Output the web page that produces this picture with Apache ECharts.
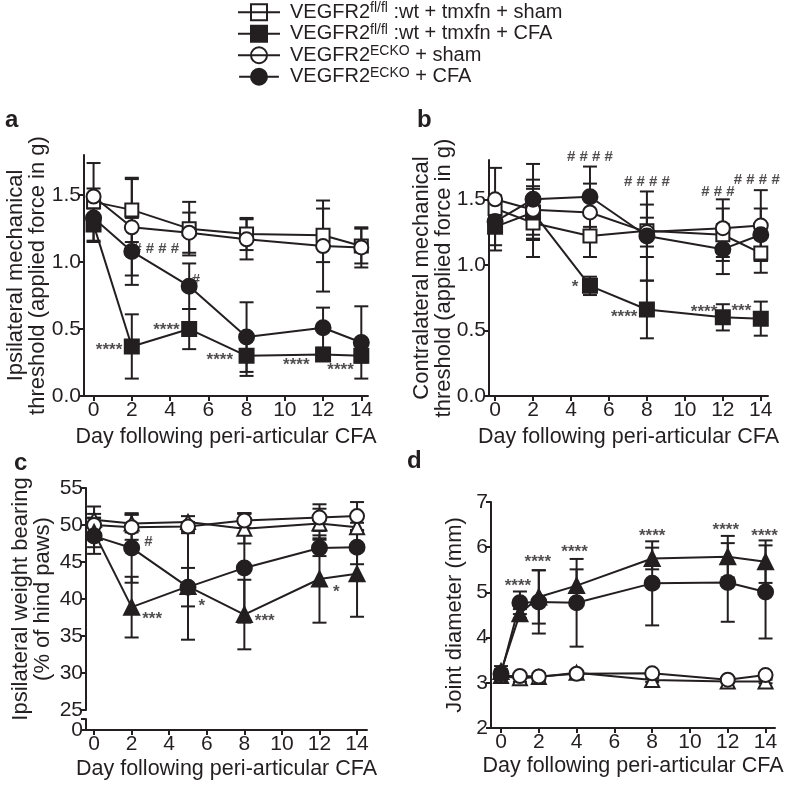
<!DOCTYPE html>
<html><head><meta charset="utf-8">
<script src="https://cdn.jsdelivr.net/npm/echarts@6/dist/echarts.min.js"></script>
<style>html,body{margin:0;padding:0;background:#fff}#c{width:787px;height:785px}</style>
</head><body><div id="c"></div>
<script>
// ---------------- data ----------------
const daysAB = [0, 2, 5, 8, 12, 14];
const daysC = [0, 2, 5, 8, 12, 14];
const daysD = [0, 1, 2, 4, 8, 12, 14];

const xTicks = [0, 2, 4, 6, 8, 10, 12, 14];
const yTicksAB = [0, 0.5, 1.0, 1.5];
const yTicksC = [25, 30, 35, 40, 45, 50, 55];
const yTicksCLow = [0];
const yTicksD = [2, 3, 4, 5, 6, 7];

// panel a: ipsilateral mechanical threshold (g)
const aWtSham = [1.45, 1.39, 1.25, 1.21, 1.20, 1.12];
const aWtShamErr = [0.10, 0.24, 0.20, 0.12, 0.20, 0.13];
const aWtCfa = [1.28, 0.37, 0.50, 0.30, 0.31, 0.30];
const aWtCfaErr = [0.12, 0.24, 0.15, 0.15, 0.04, 0.05];
const aKoSham = [1.49, 1.26, 1.22, 1.17, 1.12, 1.11];
const aKoShamErr = [0.25, 0.36, 0.15, 0.15, 0.34, 0.15];
const aKoCfa = [1.33, 1.08, 0.82, 0.44, 0.51, 0.40];
const aKoCfaErr = [0.18, 0.25, 0.17, 0.26, 0.15, 0.27];

// panel b: contralateral mechanical threshold (g)
const bWtSham = [1.43, 1.32, 1.22, 1.26, 1.23, 1.09];
const bWtShamErr = [0.10, 0.26, 0.16, 0.20, 0.20, 0.15];
const bWtCfa = [1.29, 1.40, 0.84, 0.66, 0.60, 0.59];
const bWtCfaErr = [0.18, 0.20, 0.07, 0.22, 0.10, 0.13];
const bKoSham = [1.50, 1.42, 1.40, 1.25, 1.28, 1.30];
const bKoShamErr = [0.24, 0.23, 0.22, 0.11, 0.22, 0.27];
const bKoCfa = [1.33, 1.50, 1.52, 1.22, 1.12, 1.23];
const bKoCfaErr = [0.18, 0.27, 0.23, 0.34, 0.19, 0.20];

// panel c: ipsilateral weight bearing (% of hind paws)
const cWtSham = [50.7, 50.2, 50.4, 49.5, 50.2, 49.7];
const cWtShamErr = [1.8, 1.2, 0.8, 2.0, 2.0, 0.6];
const cWtCfa = [49.0, 38.9, 41.7, 37.9, 42.7, 43.4];
const cWtCfaErr = [2.0, 4.1, 7.2, 4.7, 5.9, 5.8];
const cKoSham = [50.0, 49.7, 49.8, 50.6, 51.0, 51.2];
const cKoShamErr = [1.5, 1.7, 0.6, 1.0, 1.8, 1.9];
const cKoCfa = [48.5, 46.9, 41.6, 44.2, 46.9, 47.0];
const cKoCfaErr = [2.4, 4.7, 2.6, 7.4, 1.1, 2.3];

// panel d: joint diameter (mm)
const dWtSham = [3.15, 3.10, 3.13, 3.22, 3.06, 3.03, 3.03];
const dWtShamErr = [0.06, 0.08, 0.08, 0.05, 0.04, 0.04, 0.04];
const dWtCfa = [3.25, 4.53, 4.90, 5.15, 5.75, 5.79, 5.68];
const dWtCfaErr = [0.12, 0.10, 0.59, 0.36, 0.24, 0.46, 0.47];
const dKoSham = [3.15, 3.15, 3.14, 3.20, 3.21, 3.07, 3.17];
const dKoShamErr = [0.05, 0.05, 0.05, 0.05, 0.04, 0.04, 0.05];
const dKoCfa = [3.20, 4.77, 4.79, 4.77, 5.20, 5.22, 5.01];
const dKoCfaErr = [0.10, 0.25, 0.70, 0.97, 0.93, 0.87, 1.03];

// significance marks: [day, level, text]
const sigA = [[2, 0.37, '****'], [2, 1.10, '####'], [5, 0.52, '****'], [5, 0.865, '#'], [8, 0.295, '****'], [12, 0.256, '****'], [14, 0.219, '****']];
const sigB = [[5, 1.827, '####'], [8, 1.636, '####'], [12, 1.56, '###'], [14, 1.649, '####'], [5, 0.86, '*'], [8, 0.631, '****'], [12, 0.669, '****'], [14, 0.677, '***']];
const sigC = [[2, 47.7, '#'], [2, 37.8, '***'], [5, 39.6, '*'], [8, 37.5, '***'], [12, 41.4, '*']];
const sigD = [[1, 5.22, '****'], [2, 5.75, '****'], [4, 5.97, '****'], [8, 6.32, '****'], [12, 6.47, '****'], [14, 6.32, '****']];

// legend text parts
const legendBase = ['VEGFR2', 'VEGFR2', 'VEGFR2', 'VEGFR2'];
const legendSup = ['fl/fl', 'fl/fl', 'ECKO', 'ECKO'];
const legendTail = [' :wt + tmxfn + sham', ' :wt + tmxfn + CFA', ' + sham', ' + CFA'];

const panelLetters = ['a', 'b', 'c', 'd'];
const xName = 'Day following peri-articular CFA';
const yNames = ['Ipsilateral mechanical\nthreshold (applied force in g)', 'Contralateral mechanical\nthreshold (applied force in g)', 'Ipsilateral weight bearing\n(% of hind paws)', 'Joint diameter (mm)'];

// ---------------- layout / style ----------------
const INK = '#231f20';
const FONT = '"Liberation Sans", Arial, Helvetica, sans-serif';
const seriesNames = legendBase.map((b, i) => b + legendSup[i] + legendTail[i]);

// legend icons: line through symbol (42 x 18 box)
const BAR = 'M0,8 L42,8 L42,10 L0,10 Z ';
const legendIcons = [
  'path://' + BAR + 'M12,0 L30,0 L30,18 L12,18 Z M14,2 L14,16 L28,16 L28,2 Z',
  'path://' + BAR + 'M12,0 L30,0 L30,18 L12,18 Z',
  'path://' + BAR + 'M30,9 A9,9 0 1,1 12,9 A9,9 0 1,1 30,9 Z M28,9 A7,7 0 1,0 14,9 A7,7 0 1,0 28,9 Z',
  'path://' + BAR + 'M30.5,9 A9.5,9.5 0 1,1 11.5,9 A9.5,9.5 0 1,1 30.5,9 Z'
];

const placeA = [['left', 9], ['right', 1], ['left', 9], ['right', 2], ['left', 13], ['left', 13], ['left', 7]];
const placeB = [['center', 0], ['center', 0], ['center', -5], ['center', -4], ['left', 11], ['left', 9], ['left', 5], ['left', 9]];
const placeC = [['right', 12], ['right', 10], ['right', 10], ['right', 10], ['right', 13]];
const placeD = [['center', -2], ['center', -1], ['center', -2], ['center', 0], ['center', -2], ['center', -1]];

const grids = [
  { left: 84, top: 155, width: 284, height: 241 },
  { left: 489, top: 160, width: 279, height: 236 },
  { left: 86, top: 488, width: 281, height: 222 },
  { left: 86, top: 719, width: 281, height: 11 },
  { left: 491, top: 502, width: 284, height: 226 }
].map(g => Object.assign({ containLabel: false, outerBoundsMode: 'none' }, g));

const LW = 2;
const axisLineStyle = { color: INK, width: LW };
const yNameStyle = { color: INK, fontSize: 22, fontFamily: FONT, lineHeight: 22 };
const xNameStyle = { color: INK, fontSize: 21.5, fontFamily: FONT };

function xAxisCfg(gi, min, max, show, nameGap) {
  return {
    type: 'value', gridIndex: gi, min: min, max: max, show: show,
    splitLine: { show: false },
    axisLine: { onZero: false, lineStyle: axisLineStyle },
    axisTick: { show: true, length: 5, customValues: xTicks, lineStyle: axisLineStyle },
    axisLabel: { customValues: xTicks, color: INK, fontSize: 21, fontFamily: FONT, margin: 4 },
    name: xName, nameLocation: 'middle', nameGap: nameGap, nameTextStyle: xNameStyle, nameMoveOverlap: false
  };
}
function yAxisCfg(gi, min, max, ticks, labels, fmt, name, nameGap) {
  return {
    type: 'value', gridIndex: gi, min: min, max: max,
    splitLine: { show: false },
    axisLine: { onZero: false, lineStyle: axisLineStyle },
    axisTick: { show: true, length: 5, customValues: ticks, lineStyle: axisLineStyle },
    axisLabel: { customValues: labels, color: INK, fontSize: 21, fontFamily: FONT, margin: 3, formatter: fmt },
    name: name, nameLocation: 'middle', nameGap: nameGap, nameTextStyle: yNameStyle, nameMoveOverlap: false
  };
}
const fmt1 = v => Number(v).toFixed(1);
const fmt0 = v => String(Math.round(v));

const xAxes = [
  xAxisCfg(0, -0.5, 14.35, true, 30),
  xAxisCfg(1, -0.32, 14.38, true, 30),
  xAxisCfg(2, -0.43, 14.53, false, 28),
  xAxisCfg(3, -0.43, 14.53, true, 28),
  xAxisCfg(4, -0.53, 14.50, true, 27)
];
const yAxes = [
  yAxisCfg(0, 0, 1.8, yTicksAB, yTicksAB, fmt1, yNames[0], 35),
  yAxisCfg(1, 0, 1.8, yTicksAB, yTicksAB, fmt1, yNames[1], 34),
  yAxisCfg(2, 25, 55, yTicksC, yTicksC, fmt0, yNames[2], 32),
  yAxisCfg(3, 0, 1, [0, 1], yTicksCLow, fmt0, '', 0),
  yAxisCfg(4, 2, 7, yTicksD, yTicksD, fmt0, yNames[3], 25)
];

function errData(days, mean, err) {
  return days.map((d, i) => [d, mean[i] - err[i], mean[i] + err[i]]);
}
function errRender(params, api) {
  const x = api.value(0);
  const p1 = api.coord([x, api.value(2)]);
  const p2 = api.coord([x, api.value(1)]);
  const w = 7;
  const st = { stroke: INK, lineWidth: LW };
  return {
    type: 'group', children: [
      { type: 'line', shape: { x1: p1[0], y1: p1[1], x2: p2[0], y2: p2[1] }, style: st },
      { type: 'line', shape: { x1: p1[0] - w, y1: p1[1], x2: p1[0] + w, y2: p1[1] }, style: st },
      { type: 'line', shape: { x1: p2[0] - w, y1: p2[1], x2: p2[0] + w, y2: p2[1] }, style: st }
    ]
  };
}

const series = [];
function addGroup(gi, name, days, mean, err, symbol, size) {
  series.push({
    type: 'line', name: name, xAxisIndex: gi, yAxisIndex: gi,
    data: days.map((d, i) => [d, mean[i]]),
    symbol: symbol, symbolSize: size, showSymbol: true,
    color: INK,
    lineStyle: { color: INK, width: LW },
    itemStyle: { color: INK, borderColor: INK, borderWidth: 2 },
    z: 3, clip: false, silent: true
  });
  series.push({
    type: 'custom', name: name + ' (SEM)', xAxisIndex: gi, yAxisIndex: gi, renderItem: errRender,
    color: INK, itemStyle: { color: INK },
    data: errData(days, mean, err), encode: { x: 0, y: [1, 2] }, clip: false, z: 2, silent: true
  });
}
// a
addGroup(0, seriesNames[0], daysAB, aWtSham, aWtShamErr, 'emptyRect', 13);
addGroup(0, seriesNames[1], daysAB, aWtCfa, aWtCfaErr, 'rect', 14);
addGroup(0, seriesNames[2], daysAB, aKoSham, aKoShamErr, 'emptyCircle', 14);
addGroup(0, seriesNames[3], daysAB, aKoCfa, aKoCfaErr, 'circle', 15);
// b
addGroup(1, seriesNames[0], daysAB, bWtSham, bWtShamErr, 'emptyRect', 13);
addGroup(1, seriesNames[1], daysAB, bWtCfa, bWtCfaErr, 'rect', 14);
addGroup(1, seriesNames[2], daysAB, bKoSham, bKoShamErr, 'emptyCircle', 14);
addGroup(1, seriesNames[3], daysAB, bKoCfa, bKoCfaErr, 'circle', 15);
// c
addGroup(2, 'c wt sham', daysC, cWtSham, cWtShamErr, 'emptyTriangle', 14);
addGroup(2, 'c ko sham', daysC, cKoSham, cKoShamErr, 'emptyCircle', 14);
addGroup(2, 'c ko cfa', daysC, cKoCfa, cKoCfaErr, 'circle', 15);
addGroup(2, 'c wt cfa', daysC, cWtCfa, cWtCfaErr, 'triangle', 15);
// d
addGroup(4, 'd wt sham', daysD, dWtSham, dWtShamErr, 'emptyTriangle', 14);
addGroup(4, 'd ko sham', daysD, dKoSham, dKoShamErr, 'emptyCircle', 14);
addGroup(4, 'd ko cfa', daysD, dKoCfa, dKoCfaErr, 'circle', 15);
addGroup(4, 'd wt cfa', daysD, dWtCfa, dWtCfaErr, 'triangle', 15);

function sigSeries(gi, marks, places) {
  return {
    type: 'scatter', xAxisIndex: gi, yAxisIndex: gi, symbolSize: 1, z: 5, silent: true, clip: false,
    itemStyle: { color: 'rgba(0,0,0,0)' },
    data: marks.map((m, i) => {
      const side = places[i][0], d = places[i][1];
      const isHash = m[2].indexOf('#') >= 0;
      const txt = isHash ? m[2].split('').join(' ') : m[2];
      const dy = isHash ? 0 : 4;
      const lab = { show: true, formatter: txt, color: INK, fontFamily: FONT, fontSize: isHash ? 15 : 17, fontWeight: 'bold' };
      if (side === 'center') { lab.position = 'inside'; lab.offset = [d, dy]; }
      else { lab.position = side; lab.distance = d; lab.offset = [0, dy]; }
      return { value: [m[0], m[1]], label: lab };
    })
  };
}
series.push(sigSeries(0, sigA, placeA));
series.push(sigSeries(1, sigB, placeB));
series.push(sigSeries(2, sigC, placeC));
series.push(sigSeries(4, sigD, placeD));

const titlePos = [[5, 108], [417, 108], [14, 451], [407, 449]];
const titles = panelLetters.map((t, i) => ({
  text: t, left: titlePos[i][0], top: titlePos[i][1], padding: 0,
  textStyle: { color: INK, fontSize: 24, fontWeight: 'bold', fontFamily: FONT }
}));

const option = {
  animation: false,
  backgroundColor: '#fff',
  color: [INK],
  title: titles,
  legend: {
    orient: 'vertical', left: 238, top: 1.5, padding: 0,
    itemWidth: 42, itemHeight: 18, itemGap: 0,
    symbolKeepAspect: true,
    itemStyle: { color: INK, borderWidth: 0 },
    data: seriesNames.map((n, i) => ({ name: n, icon: legendIcons[i] })),
    formatter: function (name) {
      const i = seriesNames.indexOf(name);
      return legendBase[i] + '{sup|' + legendSup[i] + '}' + legendTail[i];
    },
    textStyle: {
      color: INK, fontSize: 20, fontFamily: FONT, lineHeight: 21.5, padding: [0, 0, 0, 5],
      rich: { sup: { fontSize: 14, fontFamily: FONT, color: INK, lineHeight: 14, verticalAlign: 'top' } }
    },
    selectedMode: false
  },
  grid: grids,
  xAxis: xAxes,
  yAxis: yAxes,
  series: series
};

const chart = echarts.init(document.getElementById('c'), null, { renderer: 'canvas' });
chart.setOption(option);
</script>
</body></html>
